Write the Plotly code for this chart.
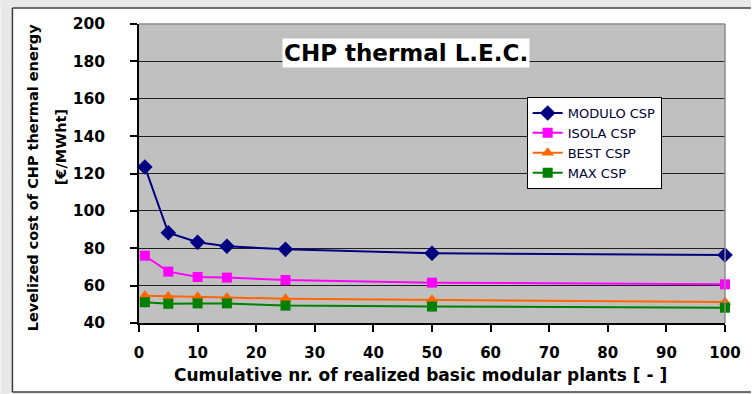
import plotly.graph_objects as go

# Cumulative number of realized basic modular plants
plants = [1, 5, 10, 15, 25, 50, 100]

# Levelized cost of CHP thermal energy [€/MWht] per configuration
modulo_csp = [123.5, 88.3, 83.2, 81.1, 79.4, 77.3, 76.4]
isola_csp = [76.0, 67.5, 64.6, 64.3, 63.0, 61.6, 60.7]
best_csp = [54.6, 54.2, 54.0, 53.6, 53.0, 52.5, 51.2]
max_csp = [51.1, 50.3, 50.5, 50.5, 49.3, 48.8, 48.2]

series_names = ["MODULO CSP", "ISOLA CSP", "BEST CSP", "MAX CSP"]
x_ticks = list(range(0, 101, 10))
y_ticks = list(range(40, 201, 20))

W, H = 753, 394
L, R, T, B = 139, 727, 24, 323  # plot area in pixels


def px(xp):
    return (xp - L) / (R - L)


def py(yp):
    return (B - yp) / (B - T)


FONT = "DejaVu Sans"

styles = [
    dict(color="#000080", symbol="diamond", size=12),
    dict(color="#FF00FF", symbol="square", size=10),
    dict(color="#FF6600", symbol="triangle-up", size=11),
    dict(color="#008000", symbol="square", size=10),
]

fig = go.Figure()
for name, vals, st in zip(series_names, [modulo_csp, isola_csp, best_csp, max_csp], styles):
    fig.add_trace(go.Scatter(
        x=plants, y=vals, name=name, mode="lines+markers",
        line=dict(color=st["color"], width=2),
        marker=dict(color=st["color"], symbol=st["symbol"], size=st["size"], line=dict(width=0)),
        cliponaxis=False,
    ))

shapes = [
    # grey page surround outside the chart frame
    dict(type="rect", xref="paper", yref="paper", x0=px(0), x1=px(12), y0=py(W), y1=py(0),
         fillcolor="#E8E8E8", line=dict(width=0)),
    dict(type="rect", xref="paper", yref="paper", x0=px(0), x1=px(W), y0=py(8), y1=py(0),
         fillcolor="#E8E8E8", line=dict(width=0)),
    dict(type="rect", xref="paper", yref="paper", x0=px(0), x1=px(W), y0=py(H), y1=py(392),
         fillcolor="#E8E8E8", line=dict(width=0)),
    # chart frame
    dict(type="line", xref="paper", yref="paper", x0=px(12), x1=px(W), y0=py(8), y1=py(8),
         line=dict(color="#404040", width=1.5)),
    dict(type="line", xref="paper", yref="paper", x0=px(12), x1=px(12), y0=py(8), y1=py(392),
         line=dict(color="#404040", width=1.5)),
    dict(type="line", xref="paper", yref="paper", x0=px(12), x1=px(W), y0=py(392), y1=py(392),
         line=dict(color="#404040", width=1.5)),
    # plot area top/right border
    dict(type="line", xref="paper", yref="paper", x0=0, x1=1, y0=1, y1=1,
         line=dict(color="#8C8C8C", width=1.5)),
    dict(type="line", xref="paper", yref="paper", x0=1, x1=1, y0=0, y1=1,
         line=dict(color="#8C8C8C", width=1.5)),
]

annotations = [
    dict(text="CHP thermal L.E.C.", xref="paper", yref="paper", x=px(407), y=py(53),
         xanchor="center", yanchor="middle", showarrow=False, bgcolor="white", borderpad=1,
         font=dict(family=FONT, size=23, color="black", weight="bold")),
    dict(text="Levelized cost of CHP thermal energy", xref="paper", yref="paper",
         x=px(33), y=py(177), xanchor="center", yanchor="middle", textangle=-90, showarrow=False,
         font=dict(family=FONT, size=14.5, color="black", weight="bold")),
    dict(text="[€/MWht]", xref="paper", yref="paper",
         x=px(61), y=py(147), xanchor="center", yanchor="middle", textangle=-90, showarrow=False,
         font=dict(family=FONT, size=14.5, color="black", weight="bold")),
    dict(text="Cumulative nr. of realized basic modular plants [ - ]", xref="paper", yref="paper",
         x=px(421), y=py(375), xanchor="center", yanchor="middle", showarrow=False,
         font=dict(family=FONT, size=17, color="black", weight="bold")),
]

fig.update_layout(
    width=W, height=H,
    margin=dict(l=L, r=W - R, t=T, b=H - B, pad=0),
    paper_bgcolor="white",
    plot_bgcolor="#C0C0C0",
    showlegend=True,
    legend=dict(
        x=px(528), y=py(97), xanchor="left", yanchor="top",
        bgcolor="white", bordercolor="black", borderwidth=1,
        font=dict(family=FONT, size=13, color="#000033"),
        tracegroupgap=0,
    ),
    shapes=shapes,
    annotations=annotations,
)

fig.update_xaxes(
    range=[0, 100], tickvals=x_ticks, ticktext=[str(v) for v in x_ticks],
    showgrid=False, zeroline=False,
    showline=True, linecolor="black", linewidth=1.5,
    ticks="outside", ticklen=7, tickcolor="black", tickwidth=1.5,
    ticklabelstandoff=8,
    tickfont=dict(family=FONT, size=15, color="black", weight="bold"),
)
fig.update_yaxes(
    range=[40, 200], tickvals=y_ticks, ticktext=[str(v) for v in y_ticks],
    showgrid=True, gridcolor="#202020", gridwidth=1, zeroline=False,
    showline=True, linecolor="black", linewidth=1.5,
    ticks="outside", ticklen=7, tickcolor="black", tickwidth=1.5,
    ticklabelstandoff=22,
    tickfont=dict(family=FONT, size=15.5, color="black", weight="bold"),
)

fig.write_html("out.html")
